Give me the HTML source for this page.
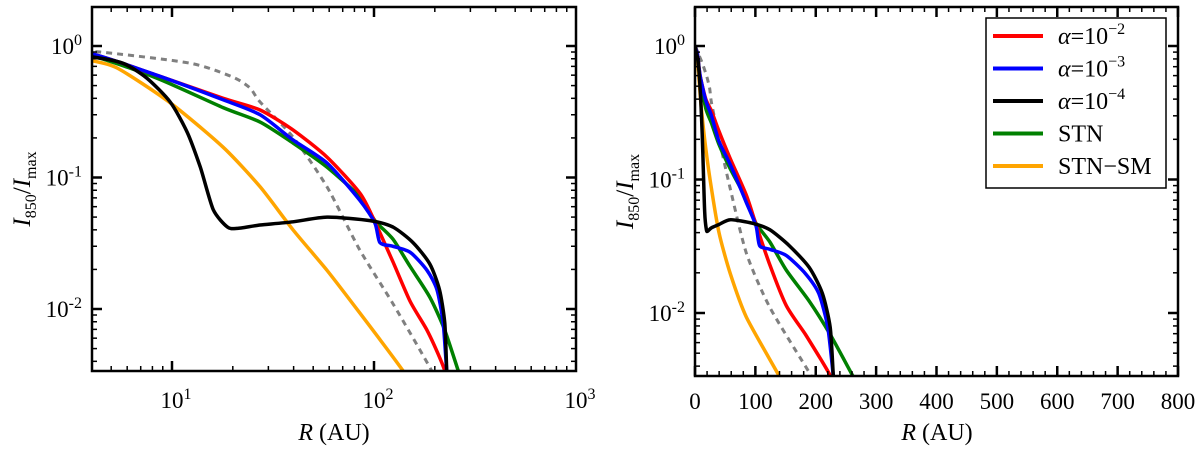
<!DOCTYPE html>
<html><head><meta charset="utf-8"><style>
body{margin:0;background:#fff}
svg{display:block}
text{font-family:"Liberation Serif",serif;fill:#000}
</style></head><body>
<svg id="chart" width="1200" height="452" xmlns="http://www.w3.org/2000/svg">
<defs>
<clipPath id="clipL"><rect x="92" y="7" width="484" height="364"/></clipPath>
<clipPath id="clipR"><rect x="695" y="7" width="483" height="369"/></clipPath>
</defs>
<g id="left"></g>
<g id="right"></g>
</svg>
<script>
const NS="http://www.w3.org/2000/svg";
// Data (radius in AU, normalized intensity)
const redR=[0.3,2,3.9,8.4,17.9,27.3,39.7,58.5,85.2,101,124,151,183,211,224,228];
const redI=[1.0,0.93,0.88,0.60,0.40,0.326,0.23,0.143,0.076,0.046,0.0229,0.0114,0.0069,0.0043,0.0034,0.003];
const blueR=[0.3,2,3.9,8.4,17.9,27.3,39.7,58.5,85.2,101,107,124,151,183,205,220,229,232];
const blueI=[1.0,0.93,0.88,0.60,0.39,0.30,0.193,0.129,0.067,0.045,0.032,0.030,0.027,0.0197,0.014,0.0078,0.0034,0.003];
const blackR=[0.3,2,3.9,5.7,7.5,9.8,11.9,13.8,16,18.8,21,27.3,39.7,58.5,95.5,124,156,189,211,224,229,231];
const blackI=[1.0,0.9,0.83,0.74,0.57,0.375,0.22,0.12,0.057,0.042,0.041,0.0435,0.046,0.05,0.047,0.042,0.032,0.022,0.014,0.0078,0.0034,0.003];
const greenR=[0.3,2,3.9,8.4,17.9,27.3,39.7,58.5,85.2,101,124,151,189,224,261,268];
const greenI=[1.0,0.93,0.85,0.57,0.34,0.264,0.183,0.12,0.071,0.047,0.034,0.021,0.0123,0.0069,0.0034,0.003];
const orangeR=[0.3,1.5,3,3.9,5.35,9.8,17.9,27.3,39.7,58.5,85.2,139,143];
const orangeI=[1.0,0.95,0.85,0.78,0.68,0.37,0.17,0.085,0.04,0.0197,0.0093,0.0034,0.003];
const greyR=[0.3,2,4.4,12.3,20,24.3,27.3,39.7,58.5,85.2,124,189,198];
const greyI=[1.0,0.97,0.90,0.74,0.58,0.48,0.375,0.203,0.085,0.028,0.011,0.0036,0.003];
const seriesNames=["α=10⁻²","α=10⁻³","α=10⁻⁴","STN","STN−SM"];
const xTicksLog=[1,2,3];
const xTicksLin=[0,100,200,300,400,500,600,700,800];
const yTicks=[0,-1,-2];

function mk(tag,attrs,parent){const e=document.createElementNS(NS,tag);for(const k in attrs)e.setAttribute(k,attrs[k]);parent.appendChild(e);return e;}

const L={x0:92,x1:576,y0:7,y1:371,xs:r=>172+202*(Math.log10(r)-1),ys:v=>46-131.5*Math.log10(v),g:document.getElementById('left'),clip:'clipL'};
const R={x0:695,x1:1178,y0:7,y1:376,xs:r=>695+0.60375*r,ys:v=>46-133.5*Math.log10(v),g:document.getElementById('right'),clip:'clipR'};

const series=[
 {R:greyR,I:greyI,c:'#808080',dash:'6,5',n:'series-reference-dashed',w:3},
 {R:orangeR,I:orangeI,c:'#ffa500',n:'series-stn-sm',w:3.5},
 {R:greenR,I:greenI,c:'#008000',n:'series-stn',w:3.5},
 {R:redR,I:redI,c:'#ff0000',n:'series-alpha-1e-2',w:3.5},
 {R:blueR,I:blueI,c:'#0000ff',n:'series-alpha-1e-3',w:3.5},
 {R:blackR,I:blackI,c:'#000000',n:'series-alpha-1e-4',w:3.5},
];

function smoothPath(pts){
  let d='M'+pts[0][0].toFixed(1)+','+pts[0][1].toFixed(1);
  for(let i=0;i<pts.length-1;i++){
    const p0=pts[Math.max(i-1,0)],p1=pts[i],p2=pts[i+1],p3=pts[Math.min(i+2,pts.length-1)];
    const t=0.12;
    const c1=[p1[0]+(p2[0]-p0[0])*t,p1[1]+(p2[1]-p0[1])*t];
    const c2=[p2[0]-(p3[0]-p1[0])*t,p2[1]-(p3[1]-p1[1])*t];
    d+='C'+c1[0].toFixed(1)+','+c1[1].toFixed(1)+' '+c2[0].toFixed(1)+','+c2[1].toFixed(1)+' '+p2[0].toFixed(1)+','+p2[1].toFixed(1);
  }
  return d;
}
function drawSeries(P){
  const g=mk('g',{'clip-path':'url(#'+P.clip+')'},P.g);
  series.forEach(s=>{
    const pts=s.R.map((r,i)=>[P.xs(r),P.ys(s.I[i])]);
    const p=mk('path',{d:smoothPath(pts),fill:'none',stroke:s.c,'stroke-width':s.w,'stroke-linejoin':'round'},g);
    if(s.dash)p.setAttribute('stroke-dasharray',s.dash);
    
    
  });
}
function frame(P){
  const r=mk('rect',{x:P.x0,y:P.y0,width:P.x1-P.x0,height:P.y1-P.y0,fill:'none',stroke:'#000','stroke-width':2.5},P.g);
  
  
}
function tick(P,x1,y1,x2,y2,w){mk('line',{x1:x1,y1:y1,x2:x2,y2:y2,stroke:'#000','stroke-width':w},P.g);}
function yAxis(P){
  for(let e=-3;e<=0;e++){
    for(let m=1;m<10;m++){
      const v=m*Math.pow(10,e);const y=P.ys(v);
      if(y<P.y0||y>P.y1)continue;
      const len=m===1?10:5,w=m===1?2.5:1.5;
      tick(P,P.x0,y,P.x0+len,y,w);tick(P,P.x1,y,P.x1-len,y,w);
    }
  }
  yTicks.forEach(e=>{
    const t=mk('text',{x:P.x0-10,y:P.ys(Math.pow(10,e))+8,'font-size':23,'text-anchor':'end'},P.g);
    
    
    t.innerHTML='10<tspan dy="-9" font-size="16">'+e+'</tspan>';
  });
  const yt=mk('text',{transform:'translate('+(P.x0-62)+','+((P.y0+P.y1)/2)+') rotate(-90)','font-size':25,'text-anchor':'middle'},P.g);
  
  
  yt.innerHTML='<tspan font-style="italic">I</tspan><tspan font-size="16" dy="6">850</tspan><tspan dy="-6">/</tspan><tspan font-style="italic">I</tspan><tspan font-size="16" dy="6">max</tspan>';
}
function xTitle(P,cx){
  const t=mk('text',{x:cx,y:440,'font-size':24,'text-anchor':'middle'},P.g);
  
  
  t.innerHTML='<tspan font-style="italic">R</tspan> (AU)';
}
// left
drawSeries(L);
for(let e=0;e<3;e++)for(let m=1;m<10;m++){
  const x=L.xs(m*Math.pow(10,e));if(x<L.x0||x>L.x1)continue;
  const len=m===1?10:5,w=m===1?2.5:1.5;
  tick(L,x,L.y1,x,L.y1-len,w);tick(L,x,L.y0,x,L.y0+len,w);
}
xTicksLog.forEach(e=>{
  const t=mk('text',{x:L.xs(Math.pow(10,e))+4,y:408,'font-size':23,'text-anchor':'middle'},L.g);
  
  
  t.innerHTML='10<tspan dy="-9" font-size="16">'+e+'</tspan>';
});
yAxis(L);frame(L);xTitle(L,334);
// right
drawSeries(R);
for(let v=0;v<=800;v+=20){
  const x=R.xs(v);const maj=v%100===0;const len=maj?10:5,w=maj?2.5:1.5;
  tick(R,x,R.y1,x,R.y1-len,w);tick(R,x,R.y0,x,R.y0+len,w);
}
xTicksLin.forEach(v=>{
  const t=mk('text',{x:R.xs(v),y:409,'font-size':23,'text-anchor':'middle'},R.g);
  
  
  t.textContent=v;
});
yAxis(R);frame(R);xTitle(R,937);
// legend
const lg=mk('g',{},R.g);


mk('rect',{x:986,y:18,width:180,height:170,fill:'#fff',stroke:'#000','stroke-width':1.5},lg);
const legColors=['#ff0000','#0000ff','#000000','#008000','#ffa500'];
seriesNames.forEach((n,i)=>{
  const y=36+i*32.5;
  const e=mk('g',{},lg);
  
  
  mk('line',{x1:993,y1:y,x2:1043,y2:y,stroke:legColors[i],'stroke-width':4},e);
  const t=mk('text',{x:1058,y:y+8,'font-size':24},e);
  if(i<3){t.innerHTML='<tspan font-style="italic">α</tspan>=10<tspan dy="-10" font-size="16">−'+(i+2)+'</tspan>';}
  else t.textContent=n;
});
</script>
</body></html>
